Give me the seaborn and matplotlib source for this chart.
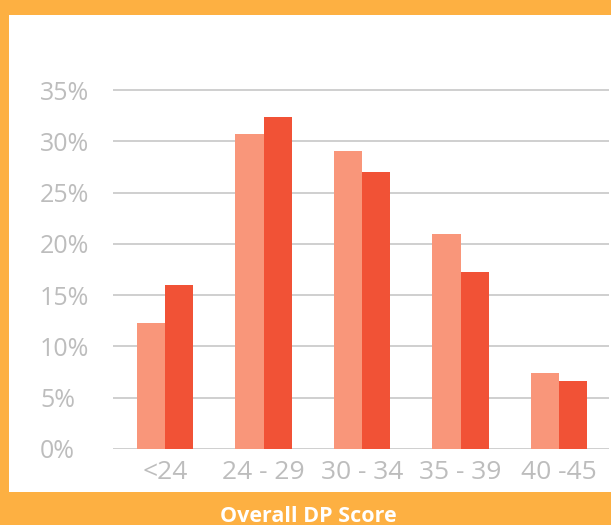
import matplotlib
matplotlib.use("Agg")
import matplotlib.pyplot as plt
import seaborn as sns
import pandas as pd

categories = ["<24", "24 - 29", "30 - 34", "35 - 39", "40 -45"]
series_names = ["Group A", "Group B"]
values_a = [12.3, 30.7, 29.1, 21.0, 7.4]
values_b = [16.0, 32.4, 27.0, 17.3, 6.6]
yticks = [0, 5, 10, 15, 20, 25, 30, 35]
ytick_labels = ["0%", "5%", "10%", "15%", "20%", "25%", "30%", "35%"]
title = "Overall DP Score"

df = pd.DataFrame({
    "category": categories * 2,
    "series": [series_names[0]] * len(categories) + [series_names[1]] * len(categories),
    "value": values_a + values_b,
})

ORANGE = "#FDB042"
LIGHT = "#F9967A"
DARK = "#F15236"
GREY = "#BDBDBD"

sns.set_theme(style="white")
plt.rcParams["font.family"] = ["Open Sans", "DejaVu Sans"]

W, H = 611, 525
fig = plt.figure(figsize=(W / 100, H / 100), dpi=100, facecolor=ORANGE)
bg = fig.add_axes([9 / W, (H - 492) / H, 1 - 9 / W, (492 - 15) / H], zorder=-10)
bg.set_facecolor("white")
bg.set_xticks([])
bg.set_yticks([])
for s in bg.spines.values():
    s.set_visible(False)

ax_left, ax_right = 113, 609
ax_bottom, ymax = 449, 36
px_per_unit = (449 - 90) / 35
ax_top = ax_bottom - ymax * px_per_unit
ax = fig.add_axes([ax_left / W, (H - ax_bottom) / H, (ax_right - ax_left) / W, (ax_bottom - ax_top) / H])
ax.set_facecolor("none")

sns.barplot(data=df, x="category", y="value", hue="series", order=categories,
            hue_order=series_names, palette=[LIGHT, DARK], width=0.57,
            saturation=1, legend=False, ax=ax, zorder=3, linewidth=0)

spacing = 98.5
c0 = 165
ax.set_xlim(-(c0 - ax_left) / spacing, (ax_right - c0) / spacing)
ax.set_ylim(0, ymax)
ax.set_yticks(yticks)
ax.set_yticklabels(ytick_labels)
ax.yaxis.grid(True, color="#CCCCCC", linewidth=1.3, zorder=0)
ax.set_axisbelow(True)
for s in ax.spines.values():
    s.set_visible(False)
ax.set_xlabel("")
ax.set_ylabel("")
ax.tick_params(axis="both", length=0, labelsize=18, labelcolor=GREY)
ax.tick_params(axis="x", labelsize=19, pad=8)
ax.tick_params(axis="y", pad=(ax_left - 40) * 72 / 100)
for t in ax.get_yticklabels():
    t.set_horizontalalignment("left")

fig.text(308 / W, (H - 516) / H, title, ha="center", va="center",
         color="white", fontsize=15.5, fontweight="bold")

fig.savefig("out.png", dpi=100, facecolor=ORANGE)
